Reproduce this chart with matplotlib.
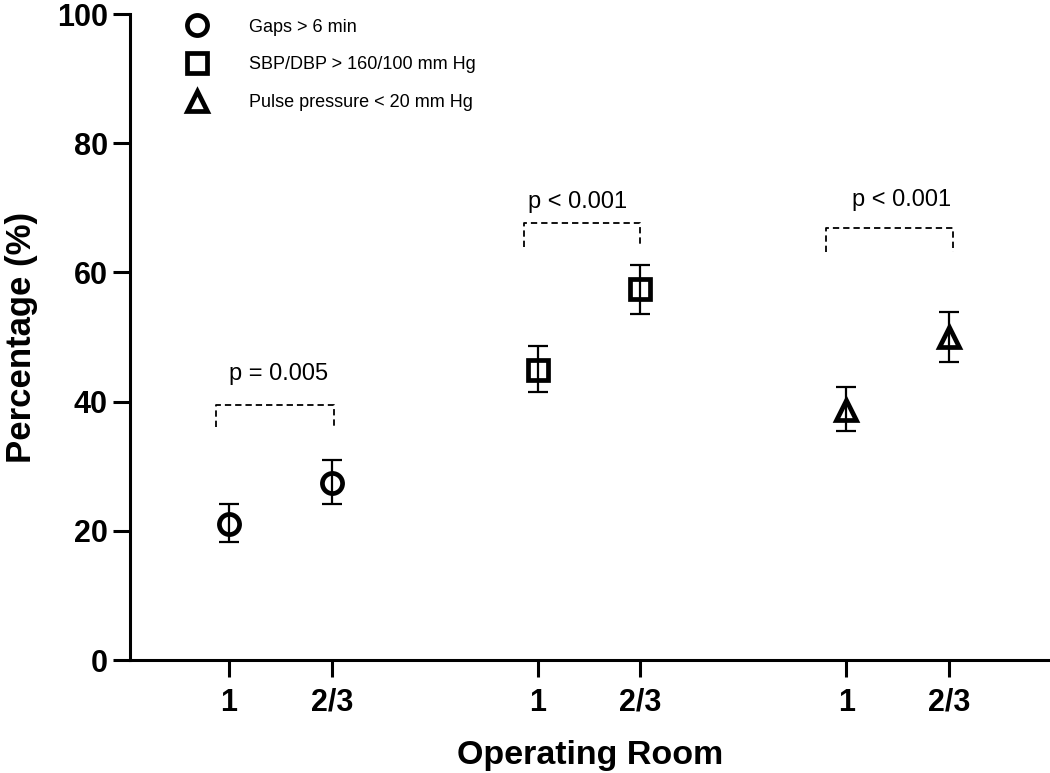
import matplotlib
matplotlib.use("Agg")
import matplotlib.pyplot as plt
from matplotlib.lines import Line2D

plt.rcParams['font.family'] = ['Liberation Sans', 'DejaVu Sans']

# ---- data ----
tick_labels = ["1", "2/3", "1", "2/3", "1", "2/3"]
x_pos = [1, 2, 4, 5, 7, 8]
series_names = ["Gaps > 6 min", "SBP/DBP > 160/100 mm Hg", "Pulse pressure < 20 mm Hg"]
series_markers = ["o", "s", "^"]
gaps_mean = [21.1, 27.4]
gaps_low = [18.3, 24.1]
gaps_high = [24.1, 31.0]
sbp_mean = [44.9, 57.4]
sbp_low = [41.5, 53.6]
sbp_high = [48.6, 61.1]
pp_mean = [38.7, 50.0]
pp_low = [35.4, 46.1]
pp_high = [42.3, 53.9]
p_texts = ["p = 0.005", "p < 0.001", "p < 0.001"]
bracket_left = [0.88, 3.87, 6.80]
bracket_right = [2.02, 5.00, 8.04]
bracket_top = [39.5, 67.6, 66.9]
bracket_bottom = [36.0, 64.0, 63.2]
p_text_x = [1.48, 4.39, 7.54]
p_text_y = [44.2, 70.9, 71.2]

fig = plt.figure(figsize=(10.5, 7.73), dpi=100)
W, H = 1050, 773
ax = fig.add_axes([130 / W, 1 - 660 / H, (1050 - 130) / W, (660 - 14) / H])

means = [gaps_mean, sbp_mean, pp_mean]
lows = [gaps_low, sbp_low, pp_low]
highs = [gaps_high, sbp_high, pp_high]
for i in range(3):
    xs = x_pos[2 * i:2 * i + 2]
    m = means[i]
    lo = [m[j] - lows[i][j] for j in range(2)]
    hi = [highs[i][j] - m[j] for j in range(2)]
    ax.errorbar(xs, m, yerr=[lo, hi], fmt='none', ecolor='black',
                elinewidth=1.6, capsize=7, capthick=1.6, zorder=2)
    ax.plot(xs, m, linestyle='none', marker=series_markers[i],
            markersize=14.5, markerfacecolor='none', markeredgecolor='black',
            markeredgewidth=3.4, zorder=3)
    # bracket
    ax.plot([bracket_left[i], bracket_left[i], bracket_right[i], bracket_right[i]],
            [bracket_bottom[i], bracket_top[i], bracket_top[i], bracket_bottom[i]],
            color='black', lw=1.3, linestyle=(0, (3.5, 2.2)), zorder=2)
    ax.text(p_text_x[i], p_text_y[i], p_texts[i], ha='center', va='center',
            fontsize=17, color='black')

ax.set_xlim(0.04, 8.98)
ax.set_ylim(0, 100)
ax.set_xticks(x_pos)
ax.set_xticklabels(tick_labels)
ax.set_yticks([0, 20, 40, 60, 80, 100])

for s in ['top', 'right']:
    ax.spines[s].set_visible(False)
for s in ['left', 'bottom']:
    ax.spines[s].set_linewidth(2.2)
ax.tick_params(axis='both', direction='out', length=12, width=2.2, labelsize=22)
ax.tick_params(axis='y', pad=4)
ax.tick_params(axis='x', pad=8)
for lab in ax.get_xticklabels() + ax.get_yticklabels():
    lab.set_fontweight('bold')

ax.set_xlabel("Operating Room", fontsize=24.5, fontweight='bold')
ax.set_ylabel("Percentage (%)", fontsize=25, fontweight='bold')
ax.xaxis.set_label_coords(0.5, -0.124)
ax.yaxis.set_label_coords(-0.1, 0.5)

handles = [Line2D([], [], linestyle='none', marker=mk, markersize=14.5,
                  markerfacecolor='none', markeredgecolor='black', markeredgewidth=3.4)
           for mk in series_markers]
ax.legend(handles, series_names, loc='upper left', bbox_to_anchor=(0.045, 1.004),
          frameon=False, fontsize=13, handletextpad=1.9, labelspacing=1.15,
          borderaxespad=0.0)

fig.savefig("out.png", dpi=100)
